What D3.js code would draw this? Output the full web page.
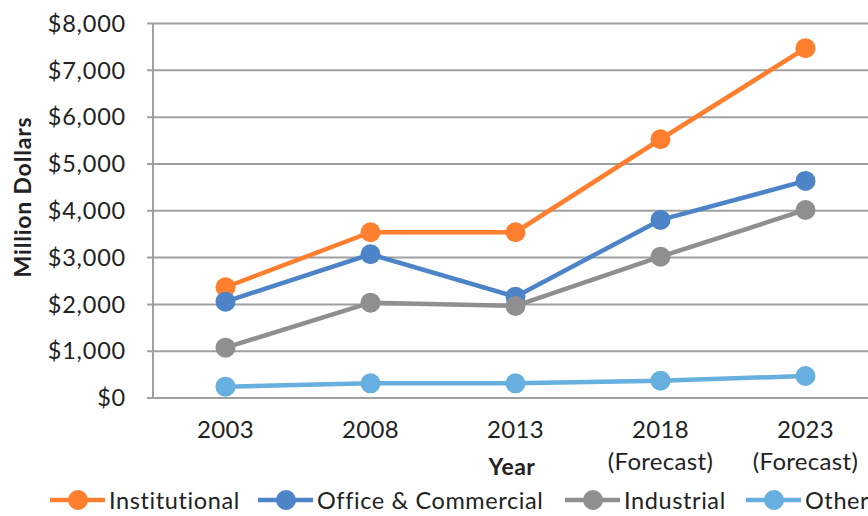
<!DOCTYPE html>
<html><head><meta charset="utf-8">
<script src="https://cdn.jsdelivr.net/npm/d3@7"></script>
<style>
body{margin:0;background:#fff;}
text{font-family:Lato,"Open Sans",sans-serif;fill:#222;}
</style></head>
<body><svg id="chart" width="868" height="516"></svg>
<script>
const categories = [["2003"],["2008"],["2013"],["2018","(Forecast)"],["2023","(Forecast)"]];
const seriesNames = ["Institutional","Office & Commercial","Industrial","Other"];
const institutional = [2355, 3530, 3530, 5517, 7462];
const officeCommercial = [2047, 3060, 2154, 3793, 4626];
const industrial = [1064, 2026, 1955, 3009, 4006];
const other = [231, 303, 303, 359, 459];
const yTicks = [0,1000,2000,3000,4000,5000,6000,7000,8000];
const colors = ["#FF7F2F","#4D84C7","#8F8F8F","#66AFDF"];

const seriesValues = [institutional, officeCommercial, industrial, other];
const svg = d3.select("#chart");
const pLeft = 153, pRight = 878, pTop = 23, pBottom = 397.5;
const keys = categories.map(c => c.join(" "));
const x = d3.scaleBand().domain(keys).range([pLeft, pRight]);
const y = d3.scaleLinear().domain([0, 8000]).range([pBottom, pTop]);

// gridlines
const yAxis = d3.axisLeft(y).tickValues(yTicks).tickSize(-(pRight-pLeft)).tickPadding(0)
  .tickFormat(d => "$" + d3.format(",")(d));
const gy = svg.append("g").attr("transform", `translate(${pLeft},0)`).call(yAxis);
gy.select(".domain").remove();
gy.selectAll(".tick line").attr("stroke", "#a0a0a0").attr("stroke-width", 2).attr("x1", -6);
gy.selectAll(".tick text").attr("x", -27).attr("font-size", 23.5).attr("dy", "0.35em")
  .attr("fill", "#222").style("font-family","Lato").style("letter-spacing","0.8px");
// y axis line
svg.append("line").attr("x1", pLeft).attr("x2", pLeft).attr("y1", pTop).attr("y2", pBottom)
  .attr("stroke", "#a0a0a0").attr("stroke-width", 2);

// x tick labels
const xl = svg.append("g");
categories.forEach((c, i) => {
  const cx = x(keys[i]) + x.bandwidth()/2;
  const t = xl.append("text").attr("x", cx).attr("y", 438)
    .attr("text-anchor", "middle").attr("font-size", 24).style("letter-spacing","0.3px");
  c.forEach((s, j) => t.append("tspan").attr("x", cx).attr("dy", j ? 32 : 0).text(s));
});

// axis titles
svg.append("text").attr("x", 512).attr("y", 475).attr("text-anchor", "middle")
  .attr("font-size", 23).attr("font-weight", "bold").style("letter-spacing","0.5px").text("Year");
svg.append("text").attr("transform", "translate(31,197) rotate(-90)").attr("text-anchor", "middle")
  .attr("font-size", 23).attr("font-weight", "bold").style("letter-spacing","0.8px").text("Million Dollars");

// lines
const line = d3.line().x((d, i) => x(keys[i]) + x.bandwidth()/2).y(d => y(d));
seriesValues.forEach((vals, s) => {
  const g = svg.append("g");
  g.append("path").datum(vals).attr("d", line).attr("fill", "none")
    .attr("stroke", colors[s]).attr("stroke-width", 4.5).attr("stroke-linejoin", "round");
  g.selectAll("circle").data(vals).join("circle")
    .attr("cx", (d, i) => x(keys[i]) + x.bandwidth()/2).attr("cy", d => y(d))
    .attr("r", 10).attr("fill", colors[s]);
});

// legend
const legendX = [50, 258, 565, 746];
const lg = svg.append("g").attr("transform", "translate(0,500)");
seriesNames.forEach((n, i) => {
  const g = lg.append("g").attr("transform", `translate(${legendX[i]},0)`);
  g.append("line").attr("x1", 0).attr("x2", 55).attr("stroke", colors[i]).attr("stroke-width", 4.5);
  g.append("circle").attr("cx", 28).attr("r", 10).attr("fill", colors[i]);
  g.append("text").attr("x", 59).attr("y", 9).attr("font-size", 23.5).style("letter-spacing","0.6px").text(n);
});
</script></body></html>
